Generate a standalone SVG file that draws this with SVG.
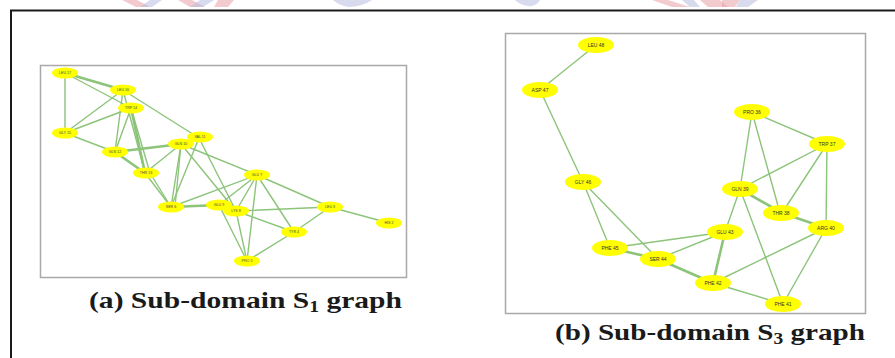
<svg xmlns="http://www.w3.org/2000/svg" width="895" height="358" viewBox="0 0 895 358">
  <style>
    .panel { fill: #ffffff; stroke: #a9a9a9; stroke-width: 1.5; }
    .edge { stroke: #8cc47a; stroke-width: 1.4; fill: none; stroke-linecap: round; }
    .dbl { stroke: #8cc47a; stroke-width: 2.6; }
    .node ellipse { fill: #ffff00; }
    .lbl-s { font-family: "Liberation Sans", Arial, sans-serif; font-size: 3.6px; fill: #444; text-anchor: middle; }
    .lbl-l { font-family: "Liberation Sans", Arial, sans-serif; font-size: 5px; fill: #333; text-anchor: middle; }
    .cap { font-family: "Liberation Serif", "Times New Roman", serif; font-weight: bold; font-size: 24px; fill: #1a1a1a; }
    .wm-r { fill: #e8a0a8; opacity: 0.55; }
    .wm-b { fill: #b8bce0; opacity: 0.55; }
  </style>

  <rect x="0" y="0" width="895" height="358" fill="#ffffff"/>

  <!-- faint logo fragments along the top edge -->
  <g id="logo-fragments">
    <polygon class="wm-r" points="122,0 137,0 150,7 136,7"/>
    <polygon class="wm-b" points="150,0 162,0 152,7 140,7"/>
    <polygon class="wm-r" points="178,0 192,0 205,7 190,7"/>
    <polygon class="wm-b" points="200,0 214,0 203,7 190,7"/>
    <polygon class="wm-r" points="218,0 234,0 228,7 214,7"/>
    <path class="wm-b" d="M333,0 H372 Q362,7 348,7 Q338,5 333,0 Z"/>
    <path class="wm-b" d="M515,0 H540 Q536,7 528,6 Q520,5 515,0 Z"/>
    <polygon class="wm-r" points="652,0 668,0 690,7 672,7"/>
    <polygon class="wm-b" points="682,0 694,0 700,7 690,7"/>
    <polygon class="wm-r" points="700,0 720,0 728,7 708,7"/>
    <polygon class="wm-r" points="722,0 740,0 735,7 722,7"/>
    <polygon class="wm-b" points="740,0 758,0 748,7 736,7"/>
  </g>

  <!-- outer frame -->
  <path d="M11,358 V10.5 H895" fill="none" stroke="#1a1a1a" stroke-width="2"/>

  <!-- panel (a) -->
  <rect class="panel" x="40.5" y="65.5" width="366" height="212"/>

  <g id="connectors-s1">
    <line class="edge dbl" x1="65" y1="73" x2="123" y2="90"/>
    <line class="edge" x1="65" y1="73" x2="131" y2="108"/>
    <line class="edge" x1="65" y1="73" x2="65" y2="133"/>
    <line class="edge" x1="123" y1="90" x2="65" y2="133"/>
    <line class="edge" x1="123" y1="90" x2="115" y2="152"/>
    <line class="edge" x1="123" y1="90" x2="145" y2="173"/>
    <line class="edge" x1="123" y1="90" x2="199" y2="138"/>
    <line class="edge" x1="131" y1="108" x2="65" y2="133"/>
    <line class="edge" x1="131" y1="108" x2="115" y2="152"/>
    <line class="edge dbl" x1="131" y1="108" x2="145" y2="173"/>
    <line class="edge" x1="131" y1="108" x2="150" y2="173"/>
    <line class="edge" x1="65" y1="133" x2="115" y2="152"/>
    <line class="edge dbl" x1="115" y1="152" x2="181" y2="144"/>
    <line class="edge dbl" x1="115" y1="152" x2="145" y2="173"/>
    <line class="edge" x1="145" y1="173" x2="181" y2="144"/>
    <line class="edge" x1="145" y1="173" x2="171" y2="207"/>
    <line class="edge" x1="150" y1="173" x2="171" y2="207"/>
    <line class="edge" x1="181" y1="144" x2="171" y2="207"/>
    <line class="edge" x1="181" y1="144" x2="257" y2="175"/>
    <line class="edge" x1="181" y1="144" x2="236" y2="211"/>
    <line class="edge" x1="199" y1="138" x2="171" y2="207"/>
    <line class="edge" x1="199" y1="138" x2="236" y2="211"/>
    <line class="edge" x1="181" y1="144" x2="175" y2="207"/>
    <line class="edge" x1="257" y1="175" x2="171" y2="207"/>
    <line class="edge" x1="257" y1="175" x2="219" y2="205"/>
    <line class="edge" x1="257" y1="175" x2="236" y2="211"/>
    <line class="edge" x1="257" y1="175" x2="247" y2="261"/>
    <line class="edge" x1="257" y1="175" x2="294" y2="232"/>
    <line class="edge" x1="257" y1="175" x2="330" y2="207"/>
    <line class="edge dbl" x1="171" y1="207" x2="219" y2="205"/>
    <line class="edge" x1="219" y1="205" x2="247" y2="261"/>
    <line class="edge" x1="236" y1="211" x2="247" y2="261"/>
    <line class="edge" x1="236" y1="211" x2="330" y2="207"/>
    <line class="edge" x1="236" y1="211" x2="294" y2="232"/>
    <line class="edge" x1="294" y1="232" x2="330" y2="207"/>
    <line class="edge" x1="294" y1="232" x2="247" y2="261"/>
    <line class="edge" x1="330" y1="207" x2="389" y2="223"/>
  </g>

  <g id="s1-leu17" class="node"><ellipse cx="65" cy="73" rx="13" ry="5.5"/><text class="lbl-s" x="65" y="74.3">LEU 17</text></g>
  <g id="s1-leu16" class="node"><ellipse cx="123" cy="90" rx="13" ry="5.5"/><text class="lbl-s" x="123" y="91.3">LEU 16</text></g>
  <g id="s1-trp14" class="node"><ellipse cx="131" cy="108" rx="13" ry="5.5"/><text class="lbl-s" x="131" y="109.3">TRP 14</text></g>
  <g id="s1-gly15" class="node"><ellipse cx="65" cy="133" rx="13" ry="5.5"/><text class="lbl-s" x="65" y="134.3">GLY 15</text></g>
  <g id="s1-gln12" class="node"><ellipse cx="115" cy="152" rx="13" ry="5.5"/><text class="lbl-s" x="115" y="153.3">GLN 12</text></g>
  <g id="s1-thr13" class="node"><ellipse cx="146" cy="173" rx="13" ry="5.5"/><text class="lbl-s" x="146" y="174.3">THR 13</text></g>
  <g id="s1-val11" class="node"><ellipse cx="200" cy="137" rx="13" ry="5.5"/><text class="lbl-s" x="200" y="138.3">VAL 11</text></g>
  <g id="s1-gln10" class="node"><ellipse cx="181" cy="144" rx="13" ry="5.5"/><text class="lbl-s" x="181" y="145.3">GLN 10</text></g>
  <g id="s1-glu7" class="node"><ellipse cx="257" cy="175" rx="13" ry="5.5"/><text class="lbl-s" x="257" y="176.3">GLU 7</text></g>
  <g id="s1-ser6" class="node"><ellipse cx="171" cy="207" rx="13" ry="5.5"/><text class="lbl-s" x="171" y="208.3">SER 6</text></g>
  <g id="s1-glu9" class="node"><ellipse cx="219" cy="205" rx="13" ry="5.5"/><text class="lbl-s" x="219" y="206.3">GLU 9</text></g>
  <g id="s1-lys8" class="node"><ellipse cx="236" cy="211" rx="13" ry="5.5"/><text class="lbl-s" x="236" y="212.3">LYS 8</text></g>
  <g id="s1-leu3" class="node"><ellipse cx="330" cy="207" rx="13" ry="5.5"/><text class="lbl-s" x="330" y="208.3">LEU 3</text></g>
  <g id="s1-tyr4" class="node"><ellipse cx="294" cy="232" rx="13" ry="5.5"/><text class="lbl-s" x="294" y="233.3">TYR 4</text></g>
  <g id="s1-pro5" class="node"><ellipse cx="247" cy="261" rx="13" ry="5.5"/><text class="lbl-s" x="247" y="262.3">PRO 5</text></g>
  <g id="s1-his2" class="node"><ellipse cx="389" cy="223" rx="13" ry="5.5"/><text class="lbl-s" x="389" y="224.3">HIS 2</text></g>

  <text class="cap" x="89" y="308" textLength="313" lengthAdjust="spacingAndGlyphs">(a) Sub-domain S<tspan font-size="16" dy="4">1</tspan><tspan dy="-4"> graph</tspan></text>

  <!-- panel (b) -->
  <rect class="panel" x="505.5" y="33.5" width="360" height="280"/>

  <g id="connectors-s3">
    <line class="edge" x1="596" y1="45" x2="540" y2="90"/>
    <line class="edge" x1="540" y1="90" x2="583" y2="182"/>
    <line class="edge" x1="583" y1="182" x2="610" y2="248"/>
    <line class="edge" x1="583" y1="182" x2="658" y2="259"/>
    <line class="edge" x1="752" y1="112" x2="827" y2="144"/>
    <line class="edge" x1="752" y1="112" x2="740" y2="189"/>
    <line class="edge" x1="752" y1="112" x2="780" y2="213"/>
    <line class="edge" x1="827" y1="144" x2="740" y2="189"/>
    <line class="edge" x1="827" y1="144" x2="782" y2="213"/>
    <line class="edge" x1="827" y1="144" x2="826" y2="228"/>
    <line class="edge dbl" x1="740" y1="189" x2="782" y2="213"/>
    <line class="edge" x1="740" y1="189" x2="725" y2="232"/>
    <line class="edge" x1="740" y1="189" x2="783" y2="304"/>
    <line class="edge dbl" x1="782" y1="213" x2="826" y2="228"/>
    <line class="edge" x1="826" y1="228" x2="713" y2="283"/>
    <line class="edge" x1="826" y1="228" x2="783" y2="304"/>
    <line class="edge" x1="725" y1="232" x2="610" y2="248"/>
    <line class="edge" x1="725" y1="232" x2="658" y2="259"/>
    <line class="edge dbl" x1="725" y1="232" x2="713" y2="283"/>
    <line class="edge dbl" x1="610" y1="248" x2="658" y2="259"/>
    <line class="edge dbl" x1="658" y1="259" x2="713" y2="283"/>
    <line class="edge" x1="713" y1="283" x2="783" y2="304"/>
  </g>

  <g id="s3-leu48" class="node"><ellipse cx="596" cy="45" rx="18" ry="8"/><text class="lbl-l" x="596" y="46.8">LEU 48</text></g>
  <g id="s3-asp47" class="node"><ellipse cx="540" cy="90" rx="18" ry="8"/><text class="lbl-l" x="540" y="91.8">ASP 47</text></g>
  <g id="s3-gly46" class="node"><ellipse cx="583" cy="182" rx="18" ry="8"/><text class="lbl-l" x="583" y="183.8">GLY 46</text></g>
  <g id="s3-pro36" class="node"><ellipse cx="752" cy="112" rx="18" ry="8"/><text class="lbl-l" x="752" y="113.8">PRO 36</text></g>
  <g id="s3-trp37" class="node"><ellipse cx="827" cy="144" rx="18" ry="8"/><text class="lbl-l" x="827" y="145.8">TRP 37</text></g>
  <g id="s3-gln39" class="node"><ellipse cx="740" cy="189" rx="18" ry="8"/><text class="lbl-l" x="740" y="190.8">GLN 39</text></g>
  <g id="s3-thr38" class="node"><ellipse cx="781" cy="213" rx="18" ry="8"/><text class="lbl-l" x="781" y="214.8">THR 38</text></g>
  <g id="s3-arg40" class="node"><ellipse cx="826" cy="228" rx="18" ry="8"/><text class="lbl-l" x="826" y="229.8">ARG 40</text></g>
  <g id="s3-glu43" class="node"><ellipse cx="725" cy="232" rx="18" ry="8"/><text class="lbl-l" x="725" y="233.8">GLU 43</text></g>
  <g id="s3-phe45" class="node"><ellipse cx="610" cy="248" rx="18" ry="8"/><text class="lbl-l" x="610" y="249.8">PHE 45</text></g>
  <g id="s3-ser44" class="node"><ellipse cx="658" cy="259" rx="18" ry="8"/><text class="lbl-l" x="658" y="260.8">SER 44</text></g>
  <g id="s3-phe42" class="node"><ellipse cx="713" cy="283" rx="18" ry="8"/><text class="lbl-l" x="713" y="284.8">PHE 42</text></g>
  <g id="s3-phe41" class="node"><ellipse cx="783" cy="304" rx="18" ry="8"/><text class="lbl-l" x="783" y="305.8">PHE 41</text></g>

  <text class="cap" x="555" y="340" textLength="310" lengthAdjust="spacingAndGlyphs">(b) Sub-domain S<tspan font-size="16" dy="4">3</tspan><tspan dy="-4"> graph</tspan></text>
</svg>
